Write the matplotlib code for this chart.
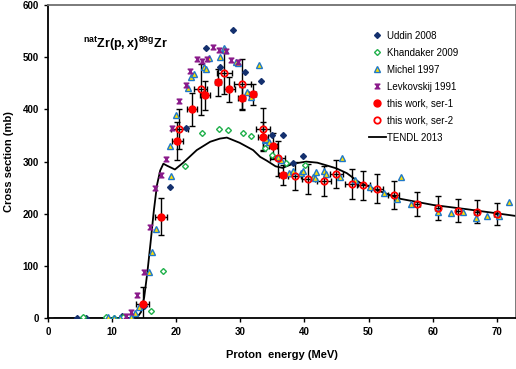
import matplotlib
matplotlib.use("Agg")
import matplotlib.pyplot as plt
from matplotlib.path import Path
import numpy as np

plt.rcParams['font.family'] = ['Liberation Sans', 'DejaVu Sans']
plt.rcParams['mathtext.fontset'] = 'custom'
plt.rcParams['mathtext.rm'] = 'Liberation Sans'
plt.rcParams['mathtext.bf'] = 'Liberation Sans:bold'

# ---------------- data ----------------
uddin_E = [4.6, 6.0, 11.5, 15.0, 19.0, 21.6, 24.6, 26.8, 28.9, 30.8, 33.2, 34.9, 36.6, 38.2, 39.8]
uddin_S = [0, 0, 5, 24, 251, 364, 517, 481, 552, 472, 454, 351, 350, 297, 311]

khand_E = [5.4, 9.0, 10.3, 11.7, 16.0, 17.9, 21.3, 24.1, 26.7, 28.1, 30.4, 31.7, 33.9, 35.0, 37.1, 40.1]
khand_S = [2, 2, 0, 3, 14, 91, 292, 354, 362, 360, 354, 349, 327, 313, 297, 293]

michel_E = [9.4, 10.3, 11.2, 12.9, 13.5, 14.2, 15.8, 16.3, 16.8, 19.2, 19.0, 20.0, 21.9, 22.3,
            22.7, 24.3, 24.7, 25.1, 26.8, 27.4, 27.6, 29.3, 29.6, 31.1, 31.6, 32.9, 33.8, 33.95,
            34.5, 35.9, 36.4, 37.6, 38.2, 39.5, 39.7, 41.3, 41.6, 41.8, 43.1, 43.3, 45.5, 45.8,
            47.9, 50.2, 52.4, 54.4, 55.0, 56.6, 60.9, 62.8, 64.8, 66.7, 68.4, 70.3, 71.9]
michel_S = [2, 1, 1, 3, 10, 22, 88, 127, 171, 273, 329, 389, 440, 462,
            468, 481, 478, 499, 500, 518, 514, 491, 488, 433, 424, 485, 341, 344,
            337, 309, 303, 278, 282, 278, 283, 271, 268, 281, 282, 277, 271, 306,
            265, 252, 240, 229, 270, 219, 203, 201, 204, 192, 196, 196, 222]

levk_E = [12.2, 12.9, 13.9, 14.9, 15.9, 16.7, 17.6, 18.4, 19.4, 20.4, 21.5, 22.2, 23.2,
          24.1, 24.8, 25.8, 26.7, 27.7, 28.6, 29.6]
levk_S = [5, 13, 45, 89, 174, 249, 274, 305, 365, 416, 446, 473, 496,
          492, 496, 520, 513, 512, 494, 490]

ser1_E = [14.8, 17.6, 20.2, 22.5, 24.5, 26.5, 28.3, 30.2, 31.9, 33.5, 35.1, 36.6]
ser1_S = [27, 195, 340, 400, 427, 452, 438, 421, 429, 348, 330, 275]
ser1_dS = [34, 35, 36, 32, 28, 26, 24, 22, 20, 28, 25, 19]
ser1_dE = [1.0, 0.9, 0.8, 0.8, 0.8, 0.5, 0.8, 0.6, 0.5, 0.8, 0.6, 0.5]

ser2_E = [20.5, 23.8, 27.5, 30.3, 33.5, 35.8, 38.5, 40.6, 43.1, 45.0, 47.4, 49.2, 51.3,
          53.9, 57.6, 60.8, 64.0, 66.9, 70.0]
ser2_S = [362, 438, 470, 449, 362, 306, 273, 267, 263, 277, 257, 255, 248,
          236, 219, 212, 206, 204, 200]
ser2_dS = [38, 48, 40, 48, 40, 33, 27, 28, 28, 27, 28, 28, 28, 27, 23, 23, 22, 22, 21]
ser2_dE = [1.3, 1.0, 1.2, 1.3, 1.1, 1.1, 1.0, 1.0, 1.1, 1.0, 1.0, 1.0, 0.9, 0.8,
           0.5, 0.4, 0.4, 0.4, 0.4]

tendl_E = [1.0, 13.8, 14.5, 15.0, 15.5, 16.0, 16.5, 17.0, 17.5, 18.0, 18.6, 19.8, 21.1,
           23.2, 25.3, 26.8, 27.9, 29.9, 32.0, 33.1, 34.1, 35.5, 36.6, 38.2, 40.3, 42.0,
           43.4, 45.0, 46.6, 48.6, 51.2, 54.9, 60.1, 65.3, 73.0]
tendl_S = [0, 0, 12, 40, 88, 145, 205, 255, 283, 296, 292, 285, 298,
           322, 338, 344, 346, 336, 322, 309, 302, 291, 288, 296, 300, 298,
           293, 287, 278, 260, 246, 229, 217, 209, 196]

xticks = [0, 10, 20, 30, 40, 50, 60, 70]
yticks = [0, 100, 200, 300, 400, 500, 600]

# ---------------- figure ----------------
fig = plt.figure(figsize=(5.16, 3.69), dpi=100)
ax = fig.add_axes([0.093, 0.137, 0.907, 0.850])

hourglass = Path([(-1, 1), (1, 1), (-1, -1), (1, -1), (-1, 1)],
                 [Path.MOVETO, Path.LINETO, Path.LINETO, Path.LINETO, Path.CLOSEPOLY])

ax.plot(tendl_E, tendl_S, color='black', lw=1.3, zorder=2, label='TENDL 2013')

ax.errorbar(ser1_E, ser1_S, yerr=ser1_dS, xerr=ser1_dE, fmt='none', ecolor='black',
            elinewidth=1.0, capsize=2, capthick=1.0, zorder=3)
ax.errorbar(ser2_E, ser2_S, yerr=ser2_dS, xerr=ser2_dE, fmt='none', ecolor='black',
            elinewidth=1.0, capsize=2, capthick=1.0, zorder=3)

ax.plot(uddin_E, uddin_S, 'D', ls='none', ms=3.0, color='#14306e', zorder=4, label='Uddin 2008')
ax.plot(khand_E, khand_S, 'D', ls='none', ms=3.0, mfc='white', mec='#1fb04a', mew=1.0,
        zorder=4, label='Khandaker 2009')
ax.plot(michel_E, michel_S, '^', ls='none', ms=3.8, mfc='#ffe000', mec='#1f78c8', mew=1.0,
        zorder=4, label='Michel 1997')
ax.plot(levk_E, levk_S, marker=hourglass, ls='none', ms=3.4, color='#8a1a8a', zorder=4,
        label='Levkovskij 1991')
ax.plot(ser1_E, ser1_S, 'o', ls='none', ms=5.0, color='#ff0000', zorder=5, label='this work, ser-1')
ax.plot(ser2_E, ser2_S, 'o', ls='none', ms=4.6, mfc='none', mec='#ff0000', mew=1.3, zorder=5,
        label='this work, ser-2')

ax.set_xlim(0, 73)
ax.set_ylim(0, 600)
ax.set_xticks(xticks)
ax.set_yticks(yticks)
ax.tick_params(labelsize=7, width=1, length=3)
for lab in ax.get_xticklabels() + ax.get_yticklabels():
    lab.set_fontweight('bold')

for s in ('left', 'bottom'):
    ax.spines[s].set_linewidth(1.3)
    ax.spines[s].set_color('black')
for s in ('top', 'right'):
    ax.spines[s].set_linewidth(1.3)
    ax.spines[s].set_color('#707070')

ax.set_xlabel('Proton  energy (MeV)', fontsize=8, fontweight='bold', labelpad=9)
ax.set_ylabel('Cross section (mb)', fontsize=8, fontweight='bold', labelpad=6)

ax.text(5.5, 525, r'$\mathbf{^{nat}Zr(p,x)^{89g}Zr}$', fontsize=9, va='center', ha='left')

handles, labels = ax.get_legend_handles_labels()
order = [1, 2, 3, 4, 5, 6, 0]
leg = ax.legend([handles[i] for i in order], [labels[i] for i in order],
                loc='upper left', bbox_to_anchor=(0.677, 0.93), frameon=False,
                fontsize=7, handlelength=1.75, handletextpad=0.1, labelspacing=0.72,
                borderaxespad=0)

fig.savefig('out.png', dpi=100)
